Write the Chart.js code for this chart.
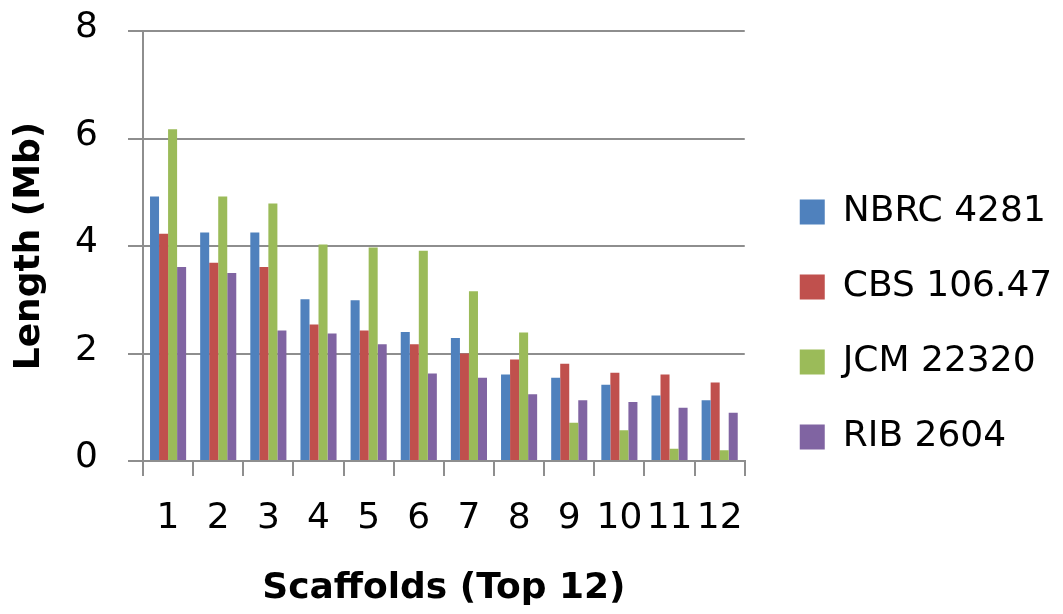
<!DOCTYPE html>
<html>
<head>
<meta charset="utf-8">
<title>Scaffold lengths</title>
<script src="https://cdn.jsdelivr.net/npm/chart.js@4/dist/chart.umd.min.js"></script>
<style>
  html, body { margin: 0; padding: 0; background: #ffffff; }
  #wrap { position: relative; width: 1063px; height: 614px; }
</style>
</head>
<body>
<div id="wrap"><canvas id="chart"></canvas></div>
<script>
// Top 12 scaffolds per strain, length in Mb
const scaffolds = ['1', '2', '3', '4', '5', '6', '7', '8', '9', '10', '11', '12'];
const nbrc4281 = [4.92, 4.25, 4.25, 3.01, 2.99, 2.40, 2.29, 1.61, 1.55, 1.42, 1.22, 1.13];
const cbs10647 = [4.23, 3.69, 3.61, 2.54, 2.43, 2.17, 2.00, 1.89, 1.81, 1.64, 1.61, 1.46];
const jcm22320 = [6.17, 4.92, 4.79, 4.03, 3.97, 3.91, 3.16, 2.39, 0.71, 0.57, 0.23, 0.20];
const rib2604  = [3.61, 3.50, 2.43, 2.37, 2.17, 1.63, 1.55, 1.24, 1.13, 1.10, 0.99, 0.90];
const strainNames = ['NBRC 4281', 'CBS 106.47', 'JCM 22320', 'RIB 2604'];
const yTicks = [0, 2, 4, 6, 8];

const palette = ['#4F81BD', '#C0504D', '#9BBB59', '#8064A2'];
const axisGray = '#8e8e8e';
const FONT = '"DejaVu Sans", Verdana, sans-serif';

// Place the legend a little to the right of the plot area, let it run to the
// canvas edge so its labels are not clipped, and drop it slightly
const legendGap = 16;
const legendDrop = 4;
const legendNudge = {
  id: 'legendNudge',
  afterLayout(chart) {
    const lg = chart.legend;
    if (!lg) return;
    lg.left = chart.chartArea.right + legendGap;
    lg.right = chart.width;
    lg.width = lg.right - lg.left;
    lg.top += legendDrop;
    lg.bottom += legendDrop;
  }
};

const series = [nbrc4281, cbs10647, jcm22320, rib2604];

new Chart(document.getElementById('chart'), {
  type: 'bar',
  data: {
    labels: scaffolds,
    datasets: series.map((values, i) => ({
      label: strainNames[i],
      data: values,
      backgroundColor: palette[i],
      borderWidth: 0,
      categoryPercentage: 0.72,
      barPercentage: 1.0
    }))
  },
  options: {
    responsive: true,
    maintainAspectRatio: false,
    animation: false,
    devicePixelRatio: 1,
    layout: { padding: { left: 0, top: 31, right: 70, bottom: 4 } },
    plugins: {
      tooltip: { enabled: false },
      legend: {
        position: 'right',
        align: 'center',
        labels: {
          color: '#000000',
          font: { family: FONT, size: 36 },
          boxWidth: 25,
          boxHeight: 25,
          padding: 39
        }
      }
    },
    scales: {
      x: {
        offset: true,
        grid: {
          display: true,
          offset: true,
          drawOnChartArea: false,
          drawTicks: true,
          tickLength: 15,
          color: axisGray,
          lineWidth: 2
        },
        border: { display: true, color: axisGray, width: 2 },
        ticks: {
          color: '#000000',
          font: { family: FONT, size: 36 },
          padding: 21,
          autoSkip: false,
          maxRotation: 0,
          minRotation: 0
        },
        title: {
          display: true,
          text: 'Scaffolds (Top 12)',
          color: '#000000',
          font: { family: FONT, size: 36, weight: 'bold', lineHeight: 1.2 },
          padding: { top: 0, bottom: 0 }
        },
        afterFit(scale) {
          scale.height = 149;
          scale.paddingLeft = 0;
          scale.paddingRight = 0;
        }
      },
      y: {
        min: 0,
        max: 8,
        afterBuildTicks(scale) { scale.ticks = yTicks.map(v => ({ value: v })); },
        grid: {
          display: true,
          drawTicks: true,
          tickLength: 15,
          color: axisGray,
          lineWidth: 2
        },
        border: { display: true, color: axisGray, width: 2 },
        ticks: {
          color: '#000000',
          font: { family: FONT, size: 36 },
          padding: 30,
          labelOffset: -3
        },
        title: {
          display: true,
          text: 'Length (Mb)',
          color: '#000000',
          font: { family: FONT, size: 36, weight: 'bold', lineHeight: 1.2 },
          padding: { top: 8, bottom: 0 }
        },
        afterFit(scale) {
          scale.width = 143;
          scale.paddingTop = 0;
          scale.paddingBottom = 0;
        }
      }
    }
  },
  plugins: [legendNudge]
});
</script>
</body>
</html>
